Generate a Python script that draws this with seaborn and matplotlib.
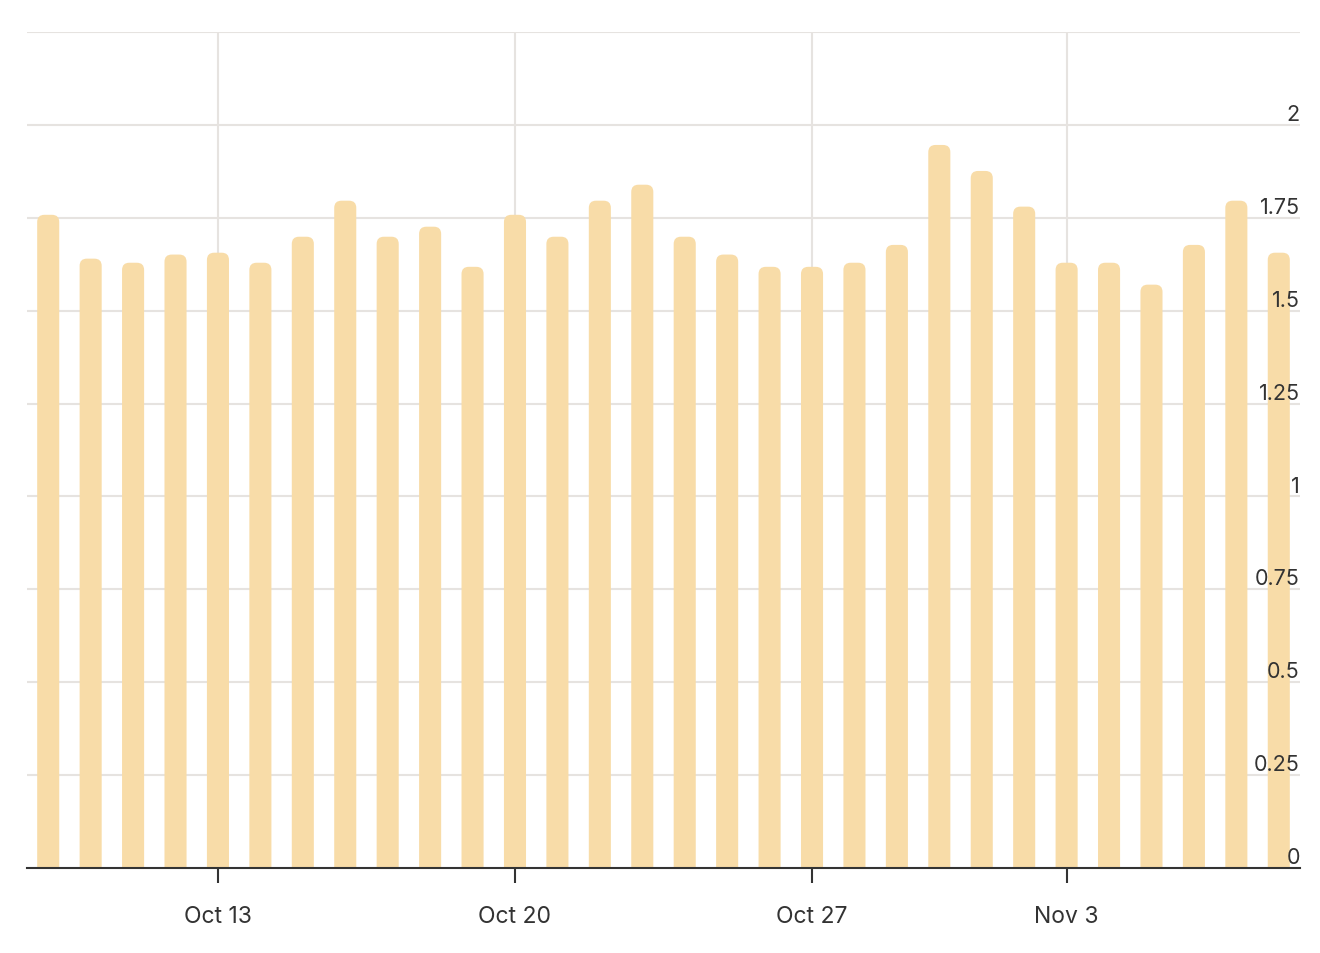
import matplotlib
matplotlib.use("Agg")
import matplotlib.pyplot as plt
from matplotlib.patches import FancyBboxPatch
import seaborn as sns
import pandas as pd

# daily values (one day, Nov 2, has no bar)
dates = ["Oct 9", "Oct 10", "Oct 11", "Oct 12", "Oct 13", "Oct 14", "Oct 15",
         "Oct 16", "Oct 17", "Oct 18", "Oct 19", "Oct 20", "Oct 21", "Oct 22",
         "Oct 23", "Oct 24", "Oct 25", "Oct 26", "Oct 27", "Oct 28", "Oct 29",
         "Oct 30", "Oct 31", "Nov 1", "Nov 3", "Nov 4", "Nov 5", "Nov 6",
         "Nov 7", "Nov 8"]
values = [1.758, 1.640, 1.629, 1.651, 1.656, 1.629, 1.699, 1.796, 1.699, 1.726,
          1.618, 1.758, 1.699, 1.796, 1.839, 1.699, 1.651, 1.618, 1.618, 1.629,
          1.677, 1.946, 1.876, 1.780, 1.629, 1.629, 1.570, 1.677, 1.796, 1.656]
tick_labels = ["Oct 13", "Oct 20", "Oct 27", "Nov 3"]
y_ticks = [0, 0.25, 0.5, 0.75, 1, 1.25, 1.5, 1.75, 2]

BAR = "#f8dca8"
GRID = "#e6e3e0"
TEXT = "#333333"

sns.set_style("white")
plt.rcParams["font.family"] = ["Inter", "DejaVu Sans"]

df = pd.DataFrame({"date": dates, "value": values})

fig = plt.figure(figsize=(13.2, 9.54), dpi=100)
ax = fig.add_axes([27 / 1320, 85 / 954, 1273 / 1320, 836 / 954])

sns.barplot(data=df, x="date", y="value", color=BAR, width=0.52,
            saturation=1, ax=ax, zorder=2)

ax.set_xlim(-0.5, len(dates) - 0.5)
ax.set_ylim(0, 2.25)

# rounded tops on the bars
r = 0.17
aspect = (1273 / len(dates)) / (836 / 2.25)
for p in list(ax.patches):
    x, w, h = p.get_x(), p.get_width(), p.get_height()
    p.remove()
    fb = FancyBboxPatch((x + r, -0.2), w - 2 * r, h + 0.2 - r * aspect,
                        boxstyle=f"round,pad={r}", mutation_aspect=aspect,
                        facecolor=BAR, edgecolor="none", zorder=2)
    ax.add_patch(fb)

# horizontal grid lines every 0.25 up to the top
for v in y_ticks[1:] + [2.25]:
    ax.axhline(v, color=GRID, lw=1.5, zorder=1)

tick_pos = [dates.index(t) for t in tick_labels]
ax.set_xticks(tick_pos)
ax.set_xticklabels(tick_labels)
for t in tick_pos:
    ax.axvline(t, color=GRID, lw=1.5, zorder=1)

ax.set_yticks([])
ax.set_xlabel("")
ax.set_ylabel("")

for s in ["top", "left", "right"]:
    ax.spines[s].set_visible(False)
ax.spines["bottom"].set_color(TEXT)
ax.spines["bottom"].set_linewidth(1.5)
ax.spines["bottom"].set_zorder(3)

ax.tick_params(axis="x", direction="out", length=11, width=1.5, color=TEXT,
               pad=15.5, labelsize=16.5, labelcolor=TEXT, bottom=True)

for v in y_ticks:
    ax.annotate(f"{v:g}", xy=(1, v), xycoords=ax.get_yaxis_transform(),
                xytext=(0, 3.5), textcoords="offset points",
                ha="right", va="baseline", fontsize=15.5, color=TEXT, zorder=4)

fig.savefig("out.png", dpi=100, facecolor="white")
